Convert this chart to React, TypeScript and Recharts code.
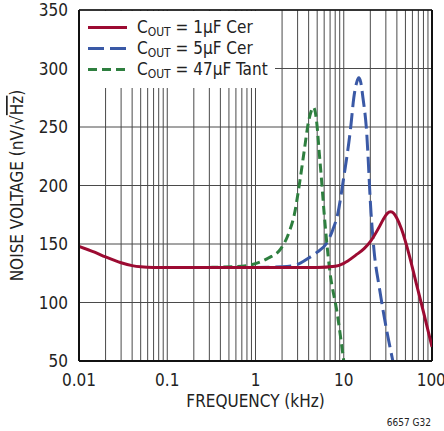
import React from 'react';
import { LineChart, Line, XAxis, YAxis, CartesianGrid, ReferenceLine } from 'recharts';

const FONT = '"Liberation Sans Narrow", "Arial Narrow", "DejaVu Sans Condensed", sans-serif';

const xTicks = [0.01, 0.1, 1, 10, 100];
const yTicks = [50, 100, 150, 200, 250, 300, 350];
const minorX = [
  0.02, 0.03, 0.04, 0.05, 0.06, 0.07, 0.08, 0.09,
  0.2, 0.3, 0.4, 0.5, 0.6, 0.7, 0.8, 0.9,
  2, 3, 4, 5, 6, 7, 8, 9,
  20, 30, 40, 50, 60, 70, 80, 90,
  0.1, 1, 10,
];

const freq1u = [0.01, 0.015, 0.02, 0.03, 0.04, 0.05, 0.07, 0.1, 1, 5, 8, 10, 13.7, 17, 20, 25, 28, 31, 34, 37, 40, 45, 55, 66, 80, 100];
const noise1u = [148, 143, 139, 134, 131.5, 130.5, 130, 130, 130, 130, 131, 133.5, 140.5, 146, 152, 164, 171, 176, 177.5, 176, 172, 163, 141, 117, 92, 62];

const freq5u = [0.3, 1, 2, 2.87, 4, 5, 6.3, 7.5, 8.5, 10, 12, 13, 14, 14.8, 15.6, 16.5, 18, 20.4, 22, 25.4, 30, 36];
const noise5u = [130, 130, 130.5, 132, 138, 143, 150, 162, 175, 207, 250, 275, 288, 292, 288, 275, 250, 176, 145, 112, 80, 50];

const freq47u = [0.3, 0.7, 0.92, 1.4, 1.94, 2.4, 2.75, 3.2, 3.57, 4.0, 4.3, 4.52, 4.75, 5.0, 5.25, 5.6, 6.0, 6.9, 8.5, 10];
const noise47u = [130, 131, 132.5, 138, 146, 160, 175, 205, 230, 255, 264, 267, 263, 250, 230, 205, 176, 129, 89, 50];

const series = [
  { key: '5u', label: '5µF Cer', color: '#3a59a6', dash: '16 6', f: freq5u, v: noise5u },
  { key: '47u', label: '47µF Tant', color: '#2e7f3f', dash: '9 5', f: freq47u, v: noise47u },
  { key: '1u', label: '1µF Cer', color: '#9c0b32', dash: undefined, f: freq1u, v: noise1u },
];
const legendOrder = ['1u', '5u', '47u'];

const toData = (f: number[], v: number[]) => f.map((x, i) => ({ f: x, v: v[i] }));

const LegendBox = () => (
  <div
    style={{
      position: 'absolute', left: 80, top: 11, background: '#fff', width: 195, height: 77,
      paddingTop: 6, boxSizing: 'border-box', fontFamily: FONT,
    }}
  >
    {legendOrder.map((k) => {
      const s = series.find((x) => x.key === k)!;
      return (
        <div key={k} style={{ display: 'flex', alignItems: 'center', height: 21 }}>
          <svg width={57} height={21}>
            <line x1={8} x2={47} y1={10.5} y2={10.5} stroke={s.color} strokeWidth={3} strokeDasharray={s.dash} />
          </svg>
          <span style={{ fontSize: 17, color: '#222', whiteSpace: 'nowrap', lineHeight: '21px' }}>
            C<sub style={{ fontSize: 12, verticalAlign: '-3px', lineHeight: 0 }}>OUT</sub> = {s.label}
          </span>
        </div>
      );
    })}
  </div>
);

const YTitle = ({ viewBox }: any) => {
  const cy = viewBox.y + viewBox.height / 2;
  return (
    <text x={23} y={cy} transform={`rotate(-90 23 ${cy})`} textAnchor="middle" fontSize={17} fill="#222" fontFamily={FONT}>
      NOISE VOLTAGE (nV/√<tspan style={{ textDecoration: 'overline' }}>Hz</tspan>)
    </text>
  );
};

export default function App() {
  return (
    <div style={{ position: 'absolute', left: 0, top: 0, width: 444, height: 431, background: '#fff' }}>
      <LineChart width={444} height={431} margin={{ top: 10, right: 12, left: 0, bottom: 0 }}>
        <CartesianGrid vertical={false} stroke="#4a4a4a" strokeWidth={1} />
        {minorX.map((x) => (
          <ReferenceLine key={x} x={x} stroke="#4a4a4a" strokeWidth={1} />
        ))}
        <ReferenceLine y={350} stroke="#111" strokeWidth={1.5} />
        <ReferenceLine x={100} stroke="#111" strokeWidth={2} />
        <XAxis
          type="number"
          dataKey="f"
          scale="log"
          domain={[0.01, 100]}
          ticks={xTicks}
          allowDataOverflow
          height={70}
          stroke="#111"
          strokeWidth={2}
          tickLine={false}
          tickSize={0}
          tickMargin={13}
          tick={{ fontSize: 17, fill: '#222', fontFamily: FONT }}
          label={{ value: 'FREQUENCY (kHz)', position: 'insideTop', offset: 34, fontSize: 17, fill: '#222', fontFamily: FONT }}
        />
        <YAxis
          type="number"
          domain={[50, 350]}
          ticks={yTicks}
          allowDataOverflow
          width={79}
          stroke="#111"
          strokeWidth={2}
          tickLine={false}
          tickSize={0}
          tickMargin={11}
          tick={{ fontSize: 17, fill: '#222', fontFamily: FONT }}
          label={<YTitle />}
        />
        {series.map((s) => (
          <Line
            key={s.key}
            data={toData(s.f, s.v)}
            dataKey="v"
            type="monotone"
            stroke={s.color}
            strokeWidth={3}
            strokeDasharray={s.dash}
            dot={false}
            isAnimationActive={false}
          />
        ))}
      </LineChart>
      <LegendBox />
      <div style={{ position: 'absolute', right: 13, top: 417, fontSize: 10, color: '#222', fontFamily: FONT }}>6657 G32</div>
    </div>
  );
}
